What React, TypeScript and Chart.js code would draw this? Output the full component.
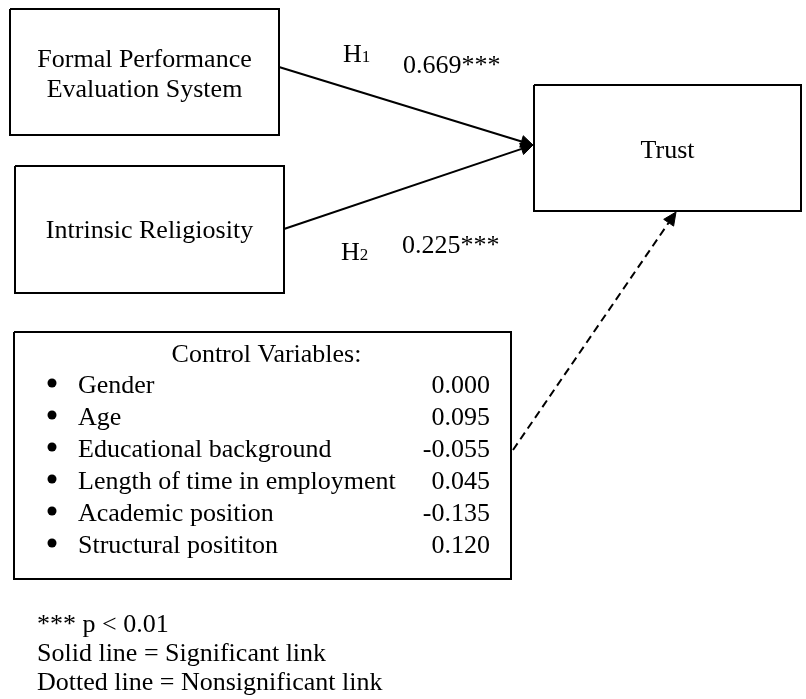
import React, { useEffect, useRef } from "react";
import { Chart, registerables } from "chart.js";

Chart.register(...registerables);

const FONT = '"Liberation Serif", "Times New Roman", serif';

// ---- content ----
const constructs = ["Formal Performance\nEvaluation System", "Intrinsic Religiosity", "Trust"];
const hypotheses = ["H1", "H2"];
const pathCoefficients = ["0.669***", "0.225***"];
const controlTitle = "Control Variables:";
const controlVariables = [
  "Gender",
  "Age",
  "Educational background",
  "Length of time in employment",
  "Academic position",
  "Structural posititon",
];
const controlCoefficients = ["0.000", "0.095", "-0.055", "0.045", "-0.135", "0.120"];
const notes = ["*** p < 0.01", "Solid line = Significant link", "Dotted line = Nonsignificant link"];

// ---- layout (canvas coordinate space) ----
const W = 806;
const H = 699;
const boxRects = [
  [10, 9, 279, 135],
  [15, 166, 284, 293],
  [534, 85, 801, 211],
];
const boxTextBaselines = [[67, 97], [238], [158]];
const controlRect = [14, 332, 511, 579];
const solidPaths = [
  [[279, 67], [533, 145]],
  [[284, 229], [533, 145]],
];
const dashedPath = [[513, 450], [676, 212]];
const hypLabelPos = [[343, 62], [341, 260]];
const coefLabelPos = [[403, 73], [402, 253]];
const controlTitleBaseline = 362;
const controlRowStart = 393;
const controlRowStep = 32;
const bulletX = 52;
const labelX = 78;
const valueRightX = 490;
const noteX = 37;
const noteBaselines = [632, 661, 690];
const FS = 26;

function rectPoints(r: number[]) {
  const [x1, y1, x2, y2] = r;
  return [
    { x: x1, y: y1 },
    { x: x2, y: y1 },
    { x: x2, y: y2 },
    { x: x1, y: y2 },
    { x: x1, y: y1 },
  ];
}

function arrowHead(from: number[], to: number[], len: number, half: number) {
  const dx = to[0] - from[0];
  const dy = to[1] - from[1];
  const d = Math.hypot(dx, dy);
  const ux = dx / d;
  const uy = dy / d;
  const bx = to[0] - ux * len;
  const by = to[1] - uy * len;
  return {
    base: [bx, by],
    pts: [
      { x: to[0], y: to[1] },
      { x: bx - uy * half, y: by + ux * half },
      { x: bx + uy * half, y: by - ux * half },
      { x: to[0], y: to[1] },
    ],
  };
}

const textPlugin = {
  id: "diagramText",
  afterDatasetsDraw(chart: any) {
    const { ctx } = chart;
    const sx = chart.scales.x;
    const sy = chart.scales.y;
    const px = (v: number) => sx.getPixelForValue(v);
    const py = (v: number) => sy.getPixelForValue(v);
    ctx.save();
    ctx.fillStyle = "#000";
    ctx.textBaseline = "alphabetic";
    ctx.font = `${FS}px ${FONT}`;

    // construct box labels
    constructs.forEach((label, i) => {
      const r = boxRects[i];
      const cx = (r[0] + r[2]) / 2;
      ctx.textAlign = "center";
      label.split("\n").forEach((line, j) => {
        ctx.fillText(line, px(cx), py(boxTextBaselines[i][j]));
      });
    });

    // hypotheses with subscript
    hypotheses.forEach((h, i) => {
      const [x, y] = hypLabelPos[i];
      ctx.textAlign = "left";
      ctx.font = `${FS}px ${FONT}`;
      const main = h.slice(0, 1);
      ctx.fillText(main, px(x), py(y));
      const w = ctx.measureText(main).width;
      ctx.font = `${Math.round(FS * 0.66)}px ${FONT}`;
      ctx.fillText(h.slice(1), px(x) + w, py(y));
    });

    // path coefficients
    ctx.font = `${FS}px ${FONT}`;
    pathCoefficients.forEach((c, i) => {
      const [x, y] = coefLabelPos[i];
      ctx.textAlign = "left";
      ctx.fillText(c, px(x), py(y));
    });

    // control variables
    ctx.textAlign = "center";
    ctx.fillText(controlTitle, px((controlRect[0] + controlRect[2]) / 2 + 4), py(controlTitleBaseline));
    controlVariables.forEach((v, i) => {
      const y = controlRowStart + i * controlRowStep;
      ctx.textAlign = "left";
      ctx.fillText(v, px(labelX), py(y));
      ctx.textAlign = "right";
      ctx.fillText(controlCoefficients[i], px(valueRightX), py(y));
    });

    // notes
    ctx.textAlign = "left";
    notes.forEach((n, i) => {
      ctx.fillText(n, px(noteX), py(noteBaselines[i]));
    });
    ctx.restore();
  },
};

export default function App() {
  const ref = useRef<HTMLCanvasElement | null>(null);

  useEffect(() => {
    if (!ref.current) return;
    const lineStyle = {
      showLine: true,
      pointRadius: 0,
      borderColor: "#000",
      backgroundColor: "#000",
      borderWidth: 2,
      tension: 0,
    };
    const datasets: any[] = [];
    boxRects.forEach((r) => datasets.push({ ...lineStyle, data: rectPoints(r) }));
    datasets.push({ ...lineStyle, data: rectPoints(controlRect) });

    solidPaths.forEach(([a, b]) => {
      const head = arrowHead(a, b, 12, 6);
      datasets.push({ ...lineStyle, data: [{ x: a[0], y: a[1] }, { x: head.base[0], y: head.base[1] }] });
      datasets.push({ ...lineStyle, borderWidth: 1, fill: "shape", data: head.pts });
    });
    {
      const [a, b] = dashedPath;
      const head = arrowHead(a, b, 13, 6);
      datasets.push({
        ...lineStyle,
        borderDash: [8, 5],
        data: [{ x: a[0], y: a[1] }, { x: head.base[0], y: head.base[1] }],
      });
      datasets.push({ ...lineStyle, borderWidth: 1, fill: "shape", data: head.pts });
    }
    // bullets
    datasets.push({
      showLine: false,
      pointRadius: 4.5,
      pointBackgroundColor: "#000",
      pointBorderColor: "#000",
      pointBorderWidth: 0,
      data: controlVariables.map((_, i) => ({ x: bulletX, y: controlRowStart + i * controlRowStep - 10 })),
    });

    const chart = new Chart(ref.current, {
      type: "scatter",
      data: { datasets },
      options: {
        animation: false,
        responsive: false,
        devicePixelRatio: 1,
        layout: { padding: 0, autoPadding: false },
        events: [],
        scales: {
          x: { type: "linear", min: 0, max: W, display: false },
          y: { type: "linear", min: 0, max: H, reverse: true, display: false },
        },
        plugins: {
          legend: { display: false },
          tooltip: { enabled: false },
          title: { display: false },
        },
      },
      plugins: [textPlugin],
    });
    return () => chart.destroy();
  }, []);

  return (
    <div style={{ position: "fixed", left: 0, top: 0, width: W, height: H, background: "#fff" }}>
      <canvas ref={ref} width={W} height={H} style={{ width: W, height: H, display: "block" }} />
    </div>
  );
}
